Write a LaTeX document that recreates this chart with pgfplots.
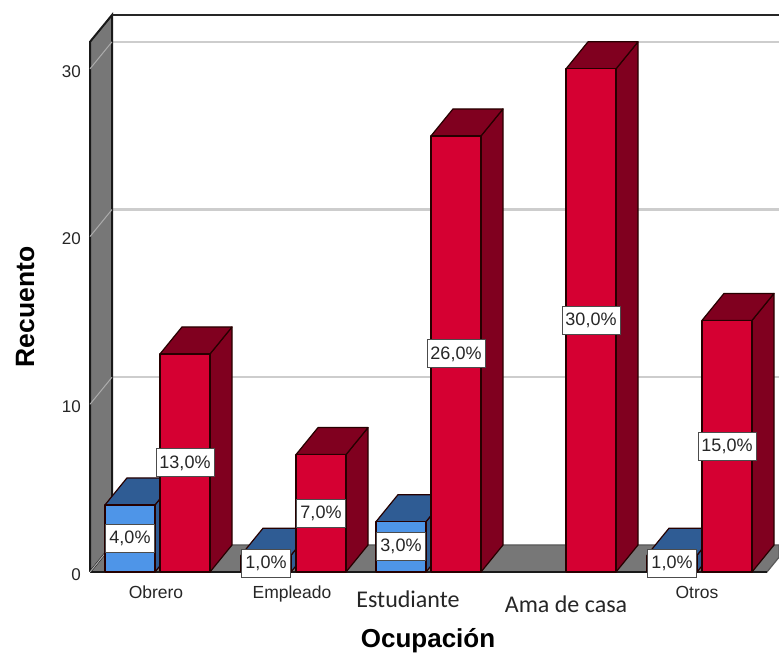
\documentclass[border=0pt]{standalone}
\usepackage{fontspec}
\setmainfont{Liberation Sans}
\newfontfamily\carlito{Carlito}
\usepackage{pgfplots}
\pgfplotsset{compat=1.18}

\definecolor{bluefront}{HTML}{4E95E8}
\definecolor{blueshade}{HTML}{2F5C94}
\definecolor{redfront}{HTML}{D50032}
\definecolor{redshade}{HTML}{80001F}
\definecolor{wallgrey}{HTML}{777777}
\definecolor{gridgrey}{HTML}{CDCDCD}

% Depth of the oblique projection, in axis units (pixels across, counts up)
\newcommand{\dx}{22}
\newcommand{\dy}{1.61}
\newcommand{\barw}{50}

% Extruded bar: left edge, value, front colour, shade colour
\newcommand{\extrudedbar}[4]{%
  \pgfmathsetmacro{\xa}{#1}%
  \pgfmathsetmacro{\xb}{#1+\barw}%
  \pgfmathsetmacro{\xc}{#1+\dx}%
  \pgfmathsetmacro{\xd}{#1+\barw+\dx}%
  \pgfmathsetmacro{\yt}{#2+\dy}%
  \edef\drawbar{%
    \noexpand\addplot[barline,fill=#4] coordinates {(\xb,0) (\xd,\dy) (\xd,\yt) (\xb,#2) (\xb,0)};
    \noexpand\addplot[barline,fill=#4] coordinates {(\xa,#2) (\xb,#2) (\xd,\yt) (\xc,\yt) (\xa,#2)};
    \noexpand\addplot[barline,fill=#3] coordinates {(\xa,0) (\xb,0) (\xb,#2) (\xa,#2) (\xa,0)};
  }\drawbar
}

% Percentage tag at half the height of a bar: left edge, value, minimum width
\newcommand{\pcttag}[3]{%
  \pgfmathsetmacro{\xm}{#1+\barw/2}%
  \pgfmathsetmacro{\ym}{#2/2}%
  \edef\drawtag{%
    \noexpand\node[pct,minimum width=#3pt] at (axis cs:\xm,\ym) {#2,0\noexpand\%};
  }\drawtag
}

\begin{document}
\begin{tikzpicture}[
  barline/.style={draw=black!85!red,line width=1.2pt,line join=round},
  pct/.style={draw=black!70,fill=white,line width=1pt,inner sep=0pt,
    minimum height=28pt,text=black!85,font=\fontsize{18}{20}\selectfont}]
\path[use as bounding box] (0,0) rectangle (779pt,653pt);
\begin{axis}[
  at={(90pt,81pt)},anchor=south west,
  width=689pt,height=557pt,scale only axis,
  clip=false,
  xmin=90,xmax=779,ymin=0,ymax=33.21,
  axis line style={draw=none},
  major tick length=0pt,
  ytick={0,10,20,30},
  /pgf/number format/assume math mode=true,
  yticklabel style={font=\fontsize{17}{20}\selectfont,text=black!85,inner sep=0pt,yshift=-2.5pt},
  yticklabel shift=9pt,
  xtick={156,292,408,566,697},
  xticklabels={
    \rule{0pt}{26pt}Obrero,
    \rule{0pt}{26pt}Empleado,
    {\rule{0pt}{35pt}\carlito\fontsize{24}{26}\selectfont Estudiante},
    {\rule{0pt}{40pt}\carlito\fontsize{24}{26}\selectfont Ama de casa},
    \rule{0pt}{26pt}Otros},
  xticklabel style={font=\fontsize{17.5}{20}\selectfont,text=black!85,inner sep=0pt,anchor=north},
  xticklabel shift=0pt,
  xlabel={Ocupación},
  ylabel={Recuento},
  xlabel style={font=\bfseries\fontsize{26}{28}\selectfont,inner sep=0pt,at={(axis description cs:0.4906,-0.1225)},anchor=center},
  ylabel style={font=\bfseries\fontsize{26.5}{28}\selectfont,at={(axis description cs:-0.0943,0.476)},anchor=center},
]
% Gridlines across the back wall
\addplot[gridgrey,line width=2.2pt] coordinates {(112,11.61) (779,11.61)};
\addplot[gridgrey,line width=2.2pt] coordinates {(112,21.61) (779,21.61)};
\addplot[gridgrey,line width=2.2pt] coordinates {(112,31.61) (779,31.61)};

% Floor and left wall
\addplot[fill=wallgrey,draw=black!65,line width=1.2pt] coordinates
  {(90,0) (767,0) (779,0.88) (779,1.61) (112,1.61) (90,0)};
\addplot[fill=wallgrey,draw=black!90,line width=2pt] coordinates
  {(90,0) (112,1.61) (112,33.21) (90,31.61) (90,0)};
\addplot[black!85,line width=2pt] coordinates {(112,33.21) (779,33.21)};
\addplot[black!90,line width=1.8pt] coordinates {(90,0) (767,0)};

% Gridlines continued over the left wall
\addplot[gray!65,line width=1pt] coordinates {(90,0) (112,1.61)};
\addplot[gray!65,line width=1pt] coordinates {(90,10) (112,11.61)};
\addplot[gray!65,line width=1pt] coordinates {(90,20) (112,21.61)};
\addplot[gray!65,line width=1pt] coordinates {(90,30) (112,31.61)};

% First series
\extrudedbar{105}{4}{bluefront}{blueshade}
\extrudedbar{241}{1}{bluefront}{blueshade}
\extrudedbar{376}{3}{bluefront}{blueshade}
\extrudedbar{647}{1}{bluefront}{blueshade}

% Second series
\extrudedbar{160}{13}{redfront}{redshade}
\extrudedbar{296}{7}{redfront}{redshade}
\extrudedbar{431}{26}{redfront}{redshade}
\extrudedbar{566}{30}{redfront}{redshade}
\extrudedbar{702}{15}{redfront}{redshade}

% Percentage tags
\pcttag{105}{4}{49}
\pcttag{241}{1}{49}
\pcttag{376}{3}{49}
\pcttag{647}{1}{49}
\pcttag{160}{13}{58}
\pcttag{296}{7}{49}
\pcttag{431}{26}{58}
\pcttag{566}{30}{58}
\pcttag{702}{15}{58}
\end{axis}
\end{tikzpicture}
\end{document}
